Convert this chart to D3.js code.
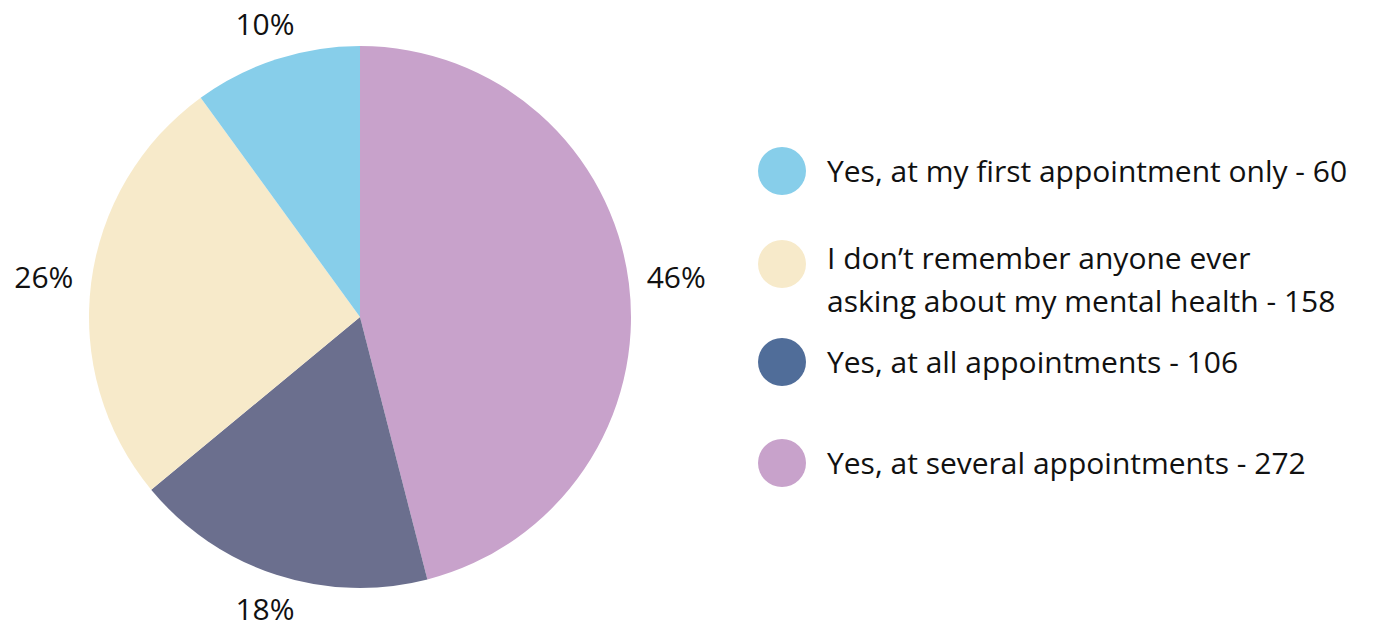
<!DOCTYPE html>
<html>
<head>
<meta charset="utf-8">
<script src="https://cdn.jsdelivr.net/npm/d3@7"></script>
<style>
  body { margin: 0; background: #fff; }
  text { font-family: "Open Sans", Lato, sans-serif; fill: #111; }
</style>
</head>
<body>
<svg id="chart" width="1378" height="628"></svg>
<script>
// slices in drawing order, clockwise from 12 o'clock
const sliceNames = ["several", "all", "none", "first"];
const sliceCounts = [272, 106, 158, 60];
const slicePercents = [46, 18, 26, 10];   // as printed on the chart
const sliceColors = ["#c8a2cb", "#6b6f8e", "#f7eaca", "#87ceea"];

// legend rows, top to bottom
const legendLines = [
    ["Yes, at my first appointment only - 60"],
    ["I don\u2019t remember anyone ever", "asking about my mental health - 158"],
    ["Yes, at all appointments - 106"],
    ["Yes, at several appointments - 272"]
];
const legendColors = ["#87ceea", "#f7eaca", "#506d99", "#c8a2cb"];

const svg = d3.select("#chart");
const cx = 360, cy = 317, radius = 271;
const fontSize = 30;

const pie = d3.pie().sort(null).value(d => d)(slicePercents);
const arc = d3.arc().innerRadius(0).outerRadius(radius);

const g = svg.append("g").attr("transform", `translate(${cx},${cy})`);

g.selectAll("path")
    .data(pie)
    .enter().append("path")
    .attr("d", arc)
    .attr("fill", (d, i) => sliceColors[i]);

// percent labels just outside the rim
const labels = g.selectAll("text.pct")
    .data(pie)
    .enter().append("text")
    .attr("class", "pct")
    .attr("text-anchor", "middle")
    .attr("dy", "0.36em")
    .style("font-size", fontSize + "px")
    .text(d => d.value + "%");

labels.attr("transform", function(d) {
    const a = (d.startAngle + d.endAngle) / 2;
    const hw = this.getComputedTextLength() / 2;
    const r = 288 + hw * Math.abs(Math.sin(a)) + 11 * Math.abs(Math.cos(a));
    return `translate(${r * Math.sin(a)},${-r * Math.cos(a)})`;
});

// legend
const rowY = [171, 264, 362, 463];
const legend = svg.append("g");
legendLines.forEach((lines, i) => {
    legend.append("circle")
        .attr("cx", 782)
        .attr("cy", rowY[i])
        .attr("r", 24)
        .attr("fill", legendColors[i]);
    const t = legend.append("text")
        .attr("x", 827)
        .attr("y", rowY[i])
        .style("font-size", fontSize + "px");
    lines.forEach((line, j) => {
        t.append("tspan")
            .attr("x", 827)
            .attr("dy", j === 0 ? (lines.length > 1 ? 5 : 11) : 43)
            .text(line);
    });
});
</script>
</body>
</html>
